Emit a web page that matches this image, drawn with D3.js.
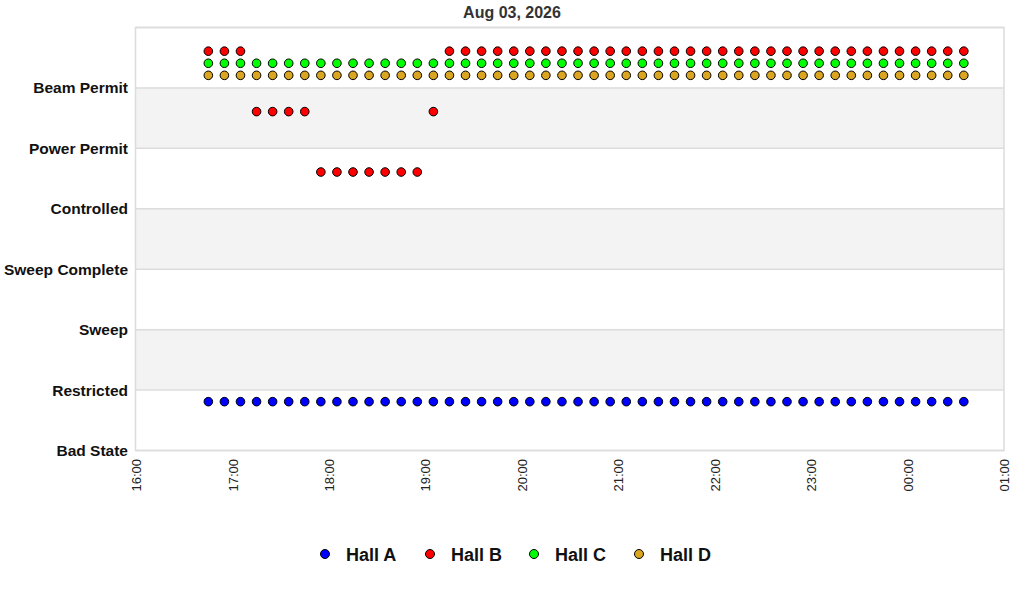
<!DOCTYPE html>
<html>
<head>
<meta charset="utf-8">
<script src="https://cdn.jsdelivr.net/npm/d3@7"></script>
<style>
  body { margin: 0; background: #fff; }
  text { font-family: "Liberation Sans", Arial, sans-serif; }
</style>
</head>
<body>
<div id="chart"></div>
<script>
// hall states, one reading every 10 minutes
var times = ['16:45','16:55','17:05','17:15','17:25','17:35','17:45','17:55',
  '18:05','18:15','18:25','18:35','18:45','18:55','19:05','19:15',
  '19:25','19:35','19:45','19:55','20:05','20:15','20:25','20:35',
  '20:45','20:55','21:05','21:15','21:25','21:35','21:45','21:55',
  '22:05','22:15','22:25','22:35','22:45','22:55','23:05','23:15',
  '23:25','23:35','23:45','23:55','00:05','00:15','00:25','00:35'];

var states = ['Bad State', 'Restricted', 'Sweep', 'Sweep Complete', 'Controlled', 'Power Permit', 'Beam Permit'];

var hallA = [0,0,0,0,0,0,0,0,0,0,0,0,0,0,0,0,0,0,0,0,0,0,0,0,0,0,0,0,0,0,0,0,0,0,0,0,0,0,0,0,0,0,0,0,0,0,0,0];
var hallB = [6,6,6,5,5,5,5,4,4,4,4,4,4,4,5,6,6,6,6,6,6,6,6,6,6,6,6,6,6,6,6,6,6,6,6,6,6,6,6,6,6,6,6,6,6,6,6,6];
var hallC = [6,6,6,6,6,6,6,6,6,6,6,6,6,6,6,6,6,6,6,6,6,6,6,6,6,6,6,6,6,6,6,6,6,6,6,6,6,6,6,6,6,6,6,6,6,6,6,6];
var hallD = [6,6,6,6,6,6,6,6,6,6,6,6,6,6,6,6,6,6,6,6,6,6,6,6,6,6,6,6,6,6,6,6,6,6,6,6,6,6,6,6,6,6,6,6,6,6,6,6];

var series = [
  {name: 'Hall A', values: hallA, color: '#0000ff', offset: 0.8},
  {name: 'Hall B', values: hallB, color: '#ff0000', offset: 0.6},
  {name: 'Hall C', values: hallC, color: '#00ff00', offset: 0.4},
  {name: 'Hall D', values: hallD, color: '#daa520', offset: 0.2}
];

// turn "HH:MM" into a date, after midnight goes to next day
function toDate(t) {
  var p = t.split(':');
  var h = +p[0];
  var day = h < 12 ? 4 : 3;
  return new Date(2026, 7, day, h, +p[1]);
}

var W = 1024, H = 600;
var pLeft = 136, pRight = 1004, pTop = 27, pBottom = 450;

var svg = d3.select('#chart')
  .append('svg')
  .attr('width', W)
  .attr('height', H);

var x = d3.scaleTime()
  .domain([new Date(2026, 7, 3, 16, 0), new Date(2026, 7, 4, 1, 0)])
  .range([pLeft, pRight]);

var y = d3.scaleLinear()
  .domain([0, 7])
  .range([pBottom, pTop]);

// alternating band shading
svg.selectAll('rect.band')
  .data([1, 3, 5])
  .enter()
  .append('rect')
    .attr('class', 'band')
    .attr('x', pLeft)
    .attr('y', d => y(d + 1))
    .attr('width', pRight - pLeft)
    .attr('height', d => y(d) - y(d + 1))
    .attr('fill', '#f3f3f3');

// horizontal grid lines
svg.selectAll('line.grid')
  .data(d3.range(0, 8))
  .enter()
  .append('line')
    .attr('x1', pLeft)
    .attr('x2', pRight)
    .attr('y1', d => y(d) + 0.5)
    .attr('y2', d => y(d) + 0.5)
    .attr('stroke', '#dcdcdc')
    .attr('stroke-width', 1.5);

// plot frame
svg.append('rect')
  .attr('x', pLeft - 0.5)
  .attr('y', pTop + 0.5)
  .attr('width', pRight - pLeft + 0.5)
  .attr('height', pBottom - pTop)
  .attr('fill', 'none')
  .attr('stroke', '#dcdcdc')
  .attr('stroke-width', 1.5);

// y labels
svg.selectAll('text.ylab')
  .data(states)
  .enter()
  .append('text')
    .attr('class', 'ylab')
    .attr('x', 128)
    .attr('y', (d, i) => y(i) + 6)
    .attr('text-anchor', 'end')
    .attr('font-size', 15.5)
    .attr('font-weight', 'bold')
    .attr('fill', '#111')
    .text(d => d);

// x axis
var xAxis = d3.axisBottom(x)
  .ticks(d3.timeHour.every(1))
  .tickFormat(d3.timeFormat('%H:%M'))
  .tickSize(0);

var gx = svg.append('g')
  .attr('transform', 'translate(0,' + pBottom + ')')
  .call(xAxis);
gx.select('.domain').remove();
gx.selectAll('text')
  .attr('transform', 'rotate(-90)')
  .attr('text-anchor', 'end')
  .attr('x', -9)
  .attr('y', 0)
  .attr('dy', '0.35em')
  .attr('font-size', 13)
  .attr('font-family', '"Liberation Sans", Arial, sans-serif')
  .attr('fill', '#222');

// points
series.forEach(function(s) {
  svg.append('g')
    .selectAll('circle')
    .data(s.values)
    .enter()
    .append('circle')
      .attr('cx', (d, i) => x(toDate(times[i])))
      .attr('cy', d => y(d + s.offset))
      .attr('r', 4.3)
      .attr('fill', s.color)
      .attr('stroke', '#000')
      .attr('stroke-width', 1);
});

// title
svg.append('text')
  .attr('x', 512)
  .attr('y', 18)
  .attr('text-anchor', 'middle')
  .attr('font-size', 16)
  .attr('font-weight', 'bold')
  .attr('fill', '#333')
  .text('Aug 03, 2026');

// legend
var legX = [325, 430, 534, 639];
var leg = svg.selectAll('g.leg')
  .data(series)
  .enter()
  .append('g')
    .attr('class', 'leg')
    .attr('transform', (d, i) => 'translate(' + legX[i] + ',554)');
leg.append('circle')
  .attr('r', 4.5)
  .attr('fill', d => d.color)
  .attr('stroke', '#000');
leg.append('text')
  .attr('x', 21)
  .attr('y', 6.5)
  .attr('font-size', 18)
  .attr('font-weight', 'bold')
  .attr('fill', '#111')
  .text(d => d.name);
</script>
</body>
</html>
